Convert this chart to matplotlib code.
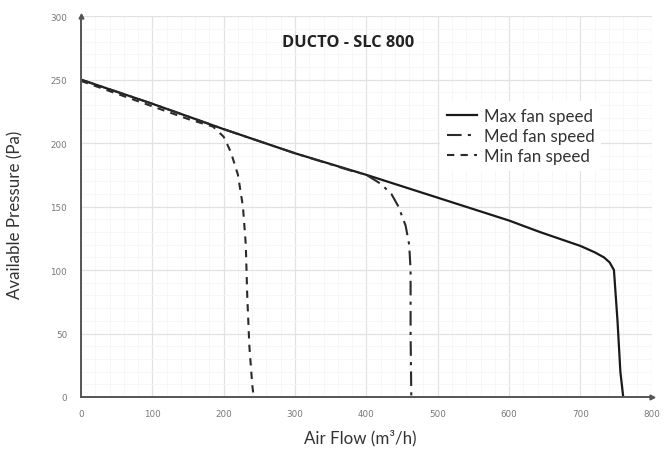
import matplotlib.pyplot as plt
from matplotlib.ticker import MultipleLocator
import numpy as np

# fan curves
max_flow = [0, 100, 200, 300, 400, 500, 600, 643, 700, 720, 733, 741, 747, 752, 756, 760]
max_pres = [250, 231, 211, 192, 175, 157, 139, 130, 119, 114, 110, 106, 100, 60, 20, 0]

med_flow = [0, 100, 200, 300, 380, 400, 420, 435, 445, 455, 460, 462, 462, 463]
med_pres = [250, 231, 211, 192, 178, 175, 168, 160, 150, 135, 120, 100, 50, 0]

min_flow = [0, 100, 150, 185, 200, 210, 220, 227, 231, 233, 236, 240, 242]
min_pres = [249, 229, 219, 213, 205, 193, 175, 150, 120, 80, 40, 10, 0]

title = 'DUCTO - SLC 800'
labels = ['Max fan speed', 'Med fan speed', 'Min fan speed']

fig = plt.figure(figsize=(6.66, 4.52), dpi=100)
ax = fig.add_axes([0.1216, 0.1195, 0.857, 0.8425])

ax.plot(max_flow, max_pres, color='#1a1a1a', lw=1.6, ls='-', label=labels[0])
ax.plot(med_flow, med_pres, color='#2a2a2a', lw=1.5, ls=(0, (7, 3, 1.5, 3)), label=labels[1])
ax.plot(min_flow, min_pres, color='#2a2a2a', lw=1.5, ls=(0, (3.5, 3)), label=labels[2])

ax.set_xlim(0, 800)
ax.set_ylim(0, 300)
ax.xaxis.set_major_locator(MultipleLocator(100))
ax.yaxis.set_major_locator(MultipleLocator(50))
ax.xaxis.set_minor_locator(MultipleLocator(20))
ax.yaxis.set_minor_locator(MultipleLocator(10))
ax.grid(which='major', color='#e2e2e2', lw=0.9)
ax.grid(which='minor', color='#f6f6f6', lw=0.6)
ax.set_axisbelow(True)

for s in ['top', 'right']:
  ax.spines[s].set_visible(False)
for s in ['left', 'bottom']:
  ax.spines[s].set_color('#555555')
  ax.spines[s].set_linewidth(1.4)
# arrow heads at the end of the axes
ax.plot(1, 0, '>', color='#555555', ms=3.5, transform=ax.transAxes, clip_on=False)
ax.plot(0, 1, '^', color='#555555', ms=3.5, transform=ax.transAxes, clip_on=False)

ax.tick_params(which='both', length=0, labelsize=6.3, labelcolor='#777777')
ax.tick_params(axis='x', pad=9)
ax.tick_params(axis='y', pad=10)

ax.set_xlabel('Air Flow (m³/h)', fontsize=12.2, family='Lato', color='#333333')
ax.set_ylabel('Available Pressure (Pa)', fontsize=12.2, family='Lato', color='#333333')
ax.xaxis.set_label_coords(0.49, -0.085)
ax.yaxis.set_label_coords(-0.10, 0.48)

ax.text(375, 280, title, ha='center', va='center', fontsize=11.8, fontweight='bold',
        family='Open Sans', color='#222222')

leg = ax.legend(loc='upper left', bbox_to_anchor=(0.615, 0.80), frameon=True, fancybox=False,
                edgecolor='none', facecolor='white', framealpha=1,
                handlelength=1.75, handletextpad=0.4, labelspacing=0.25,
                prop={'family': 'Lato', 'size': 12.2})
for t in leg.get_texts():
  t.set_color('#333333')

fig.savefig('out.png', dpi=100)
